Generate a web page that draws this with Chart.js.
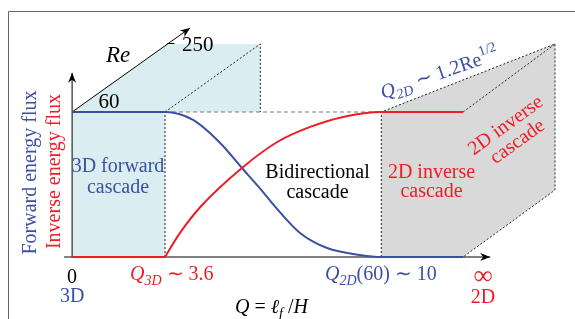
<!DOCTYPE html>
<html>
<head>
<meta charset="utf-8">
<script src="https://cdn.jsdelivr.net/npm/chart.js@4"></script>
<style>
  html, body { margin: 0; padding: 0; background: #fff; }
</style>
</head>
<body>
<canvas id="flux" width="575" height="319"></canvas>
<script>
// schematic units: Q along x (0 = 3D, far right = 2D), flux along y (1 = plateau)
var fwdQ = [0, 19.2, 25.0, 30.6, 35.1, 38.9, 42.4, 47.1, 52.7, 59.5, 63.9, 80.8];
var fwdFlux = [1, 1, 0.945, 0.786, 0.614, 0.47, 0.33, 0.166, 0.062, 0.014, 0, 0];
var invQ = [0, 19.2, 22.3, 26.5, 35.1, 42.4, 49.2, 56.0, 63.9, 80.8];
var invFlux = [0, 0, 0.166, 0.345, 0.614, 0.793, 0.897, 0.966, 1, 1];

// regime borders
var q3D = 19.2, q2D = 63.9, qEnd = 80.8, qBack = 99.8;
// Re depth axis (60 at the plateau, 250 at the back)
var reQ = [0, 19.7, 24.4];
var reFlux = [1, 1.469, 1.58];
var backLow = 0.462;

var BLUE = '#3b50a3';
var RED = '#ee1c25';

function pts(xs, ys) {
  return xs.map(function(x, i) { return { x: x, y: ys[i] }; });
}

var shapeBase = { fill: 'shape', borderWidth: 0, borderColor: 'transparent', pointRadius: 0, clip: false, order: 20 };

var datasets = [
  Object.assign({}, shapeBase, {
    data: pts([0, 0, q3D, q3D], [0, 1, 1, 0]),
    backgroundColor: '#daeef2'
  }),
  Object.assign({}, shapeBase, {
    data: pts([0, reQ[1], q3D + reQ[1], q3D + reQ[1]], [1, reFlux[1], reFlux[1], 1]),
    backgroundColor: '#daeef2'
  }),
  Object.assign({}, shapeBase, {
    data: pts([q2D, q2D, qBack, qBack, qEnd], [0, 1, reFlux[1], backLow, 0]),
    backgroundColor: '#d9d9d9'
  }),
  {
    data: pts([q3D, q2D], [1, 1]),
    borderColor: '#777', borderWidth: 1, borderDash: [4, 3],
    pointRadius: 0, fill: false, clip: false, order: 10
  },
  {
    data: pts(
      [q3D, q3D, null, q3D, q3D + reQ[1], q3D + reQ[1], null,
       q2D, q2D, qBack, qBack, qEnd, null, qEnd, qBack],
      [0, 1, null, 1, reFlux[1], 1, null,
       0, 1, reFlux[1], backLow, 0, null, 1, reFlux[1]]
    ).map(function(p) { return p.x === null ? { x: 0, y: null } : p; }),
    borderColor: '#222', borderWidth: 1, borderDash: [2, 2],
    pointRadius: 0, fill: false, clip: false, order: 10
  },
  {
    // axes and the Re direction
    data: [{ x: -1.65, y: 0 }, { x: 86.4, y: 0 }, { x: 0, y: null },
           { x: 0, y: 0 }, { x: 0, y: 1.27 }, { x: 0, y: null },
           { x: reQ[0], y: reFlux[0] }, { x: reQ[2], y: reFlux[2] }],
    borderColor: '#000', borderWidth: 1,
    pointRadius: 0, fill: false, clip: false, order: 5
  },
  {
    data: pts(fwdQ, fwdFlux),
    borderColor: BLUE, borderWidth: 2, cubicInterpolationMode: 'monotone',
    pointRadius: 0, fill: false, clip: false, order: 1
  },
  {
    data: pts(invQ.slice(0, 2), invFlux.slice(0, 2)),
    borderColor: RED, borderWidth: 2,
    pointRadius: 0, fill: false, clip: false, order: 0
  },
  {
    data: pts(invQ.slice(1), invFlux.slice(1)),
    borderColor: RED, borderWidth: 2, cubicInterpolationMode: 'monotone',
    pointRadius: 0, fill: false, clip: false, order: 0
  }
];

var SERIF = '"Liberation Serif"';

function fontFor(style) {
  if (style === 'i') return 'italic 20px ' + SERIF;
  if (style === 's') return 'italic 14px ' + SERIF;
  if (style === 'u') return '14px ' + SERIF;
  return '20px ' + SERIF;
}

function drawRich(ctx, x, y, parts, align) {
  var w = 0;
  parts.forEach(function(p) { ctx.font = fontFor(p[1]); w += ctx.measureText(p[0]).width; });
  var sx = align === 'center' ? x - w / 2 : x;
  ctx.textAlign = 'left';
  parts.forEach(function(p) {
    ctx.font = fontFor(p[1]);
    var dy = p[1] === 's' ? 5 : (p[1] === 'u' ? -9 : 0);
    ctx.fillText(p[0], sx, y + dy);
    sx += ctx.measureText(p[0]).width;
  });
}

function arrowHead(ctx, x, y, ang) {
  ctx.save();
  ctx.translate(x, y);
  ctx.rotate(ang);
  ctx.beginPath();
  ctx.moveTo(0, 0);
  ctx.lineTo(-10, -4);
  ctx.lineTo(-7, 0);
  ctx.lineTo(-10, 4);
  ctx.closePath();
  ctx.fillStyle = '#000';
  ctx.fill();
  ctx.restore();
}

var schematic = {
  id: 'schematic',
  beforeDraw: function(chart) {
    var ctx = chart.ctx;
    ctx.save();
    ctx.strokeStyle = '#666';
    ctx.lineWidth = 1;
    ctx.beginPath();
    ctx.moveTo(8.5, 319);
    ctx.lineTo(8.5, 11.5);
    ctx.lineTo(575, 11.5);
    ctx.stroke();
    ctx.restore();
  },
  afterDatasetsDraw: function(chart) {
    var ctx = chart.ctx;
    var sx = chart.scales.x, sy = chart.scales.y;
    function px(v) { return sx.getPixelForValue(v); }
    function py(v) { return sy.getPixelForValue(v); }

    ctx.save();
    // arrow heads
    arrowHead(ctx, px(86.4), py(0), 0);
    arrowHead(ctx, px(0), py(1.27), -Math.PI / 2);
    var reAng = Math.atan2(py(reFlux[2]) - py(reFlux[0]), px(reQ[2]) - px(reQ[0]));
    arrowHead(ctx, px(reQ[2]), py(reFlux[2]), reAng);
    // tick for Re = 250
    ctx.strokeStyle = '#000';
    ctx.lineWidth = 1;
    ctx.beginPath();
    ctx.moveTo(px(reQ[1]), py(reFlux[1]) - 0.5);
    ctx.lineTo(px(reQ[1]) + 7, py(reFlux[1]) - 0.5);
    ctx.stroke();

    ctx.textBaseline = 'alphabetic';
    ctx.fillStyle = '#000';
    ctx.font = '21px ' + SERIF;
    ctx.textAlign = 'center';
    ctx.fillText('60', 109, 108);
    ctx.textAlign = 'left';
    ctx.fillText('250', 182, 51);
    ctx.font = 'italic 23px ' + SERIF;
    ctx.fillText('Re', 106, 62);

    ctx.textAlign = 'center';
    ctx.font = fontFor('n');
    ctx.fillText('Bidirectional', 317.5, 178);
    ctx.fillText('cascade', 317.5, 198);

    ctx.fillStyle = BLUE;
    ctx.fillText('3D forward', 118, 172);
    ctx.fillText('cascade', 118, 193);

    ctx.fillStyle = RED;
    ctx.fillText('2D inverse', 431.5, 178);
    ctx.fillText('cascade', 431.5, 197);

    // rotated label on the back face
    ctx.save();
    ctx.translate(509, 130);
    ctx.rotate(-36 * Math.PI / 180);
    ctx.fillText('2D inverse', 0, 0);
    ctx.fillText('cascade', 0, 20);
    ctx.restore();

    // y labels
    ctx.save();
    ctx.translate(36, 172.5);
    ctx.rotate(-Math.PI / 2);
    ctx.fillStyle = BLUE;
    ctx.fillText('Forward energy flux', 0, 0);
    ctx.restore();
    ctx.save();
    ctx.translate(60, 171.5);
    ctx.rotate(-Math.PI / 2);
    ctx.fillStyle = RED;
    ctx.fillText('Inverse energy flux', 0, 0);
    ctx.restore();

    // x tick labels
    ctx.fillStyle = '#000';
    ctx.fillText('0', px(0), 283);
    ctx.fillStyle = BLUE;
    ctx.fillText('3D', px(0), 302);
    ctx.fillStyle = RED;
    ctx.fillText('2D', 483, 303);
    ctx.font = '27px ' + SERIF;
    ctx.fillText('\u221E', 483, 284);

    drawRich(ctx, 130, 280, [['Q', 'i'], ['3D', 's'], [' \u223C 3.6', 'n']], 'left');
    ctx.fillStyle = BLUE;
    drawRich(ctx, 325, 280, [['Q', 'i'], ['2D', 's'], ['(60) \u223C 10', 'n']], 'left');
    ctx.fillStyle = '#000';
    drawRich(ctx, 235, 313, [['Q', 'i'], [' = ', 'n'], ['\u2113', 'i'], ['f', 's'], [' /', 'n'], ['H', 'i']], 'left');

    // rotated Q2D scaling
    ctx.save();
    ctx.translate(383, 99);
    ctx.rotate(-19 * Math.PI / 180);
    ctx.fillStyle = BLUE;
    drawRich(ctx, 0, 0, [['Q', 'i'], ['2D', 's'], [' \u223C 1.2Re', 'n'], ['1/2', 'u']], 'left');
    ctx.restore();

    ctx.restore();
  }
};

new Chart(document.getElementById('flux').getContext('2d'), {
  type: 'line',
  data: { datasets: datasets },
  options: {
    responsive: false,
    animation: false,
    layout: { padding: { left: 60, right: 19, top: 25, bottom: 47.5 } },
    scales: {
      x: { type: 'linear', min: -2.5, max: 100, display: false },
      y: { type: 'linear', min: -0.1, max: 1.6, display: false }
    },
    plugins: {
      legend: { display: false },
      tooltip: { enabled: false }
    }
  },
  plugins: [schematic]
});
</script>
</body>
</html>
